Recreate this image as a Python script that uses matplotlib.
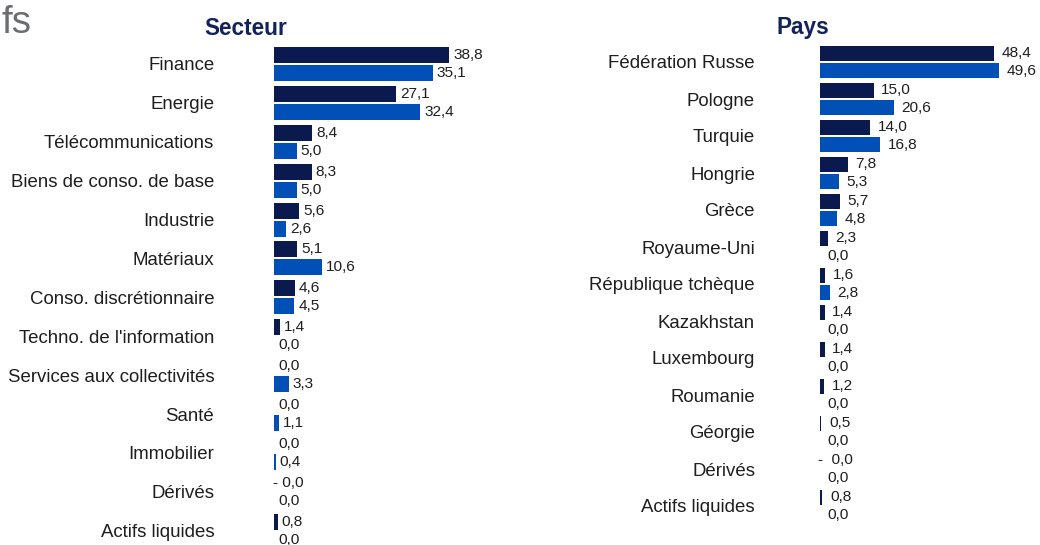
import matplotlib
matplotlib.use("Agg")
import matplotlib.pyplot as plt
import numpy as np

plt.rcParams['font.family'] = ['Liberation Sans', 'DejaVu Sans']

# ---------------- data ----------------
secteur_cats = ["Finance", "Energie", "Télécommunications", "Biens de conso. de base",
                "Industrie", "Matériaux", "Conso. discrétionnaire",
                "Techno. de l'information", "Services aux collectivités", "Santé",
                "Immobilier", "Dérivés", "Actifs liquides"]
secteur_fonds = [38.8, 27.1, 8.4, 8.3, 5.6, 5.1, 4.6, 1.4, 0.0, 0.0, 0.0, -0.0, 0.8]
secteur_indice = [35.1, 32.4, 5.0, 5.0, 2.6, 10.6, 4.5, 0.0, 3.3, 1.1, 0.4, 0.0, 0.0]
secteur_fonds_lbl = ["38,8", "27,1", "8,4", "8,3", "5,6", "5,1", "4,6", "1,4", "0,0",
                     "0,0", "0,0", "- 0,0", "0,8"]
secteur_indice_lbl = ["35,1", "32,4", "5,0", "5,0", "2,6", "10,6", "4,5", "0,0", "3,3",
                      "1,1", "0,4", "0,0", "0,0"]

pays_cats = ["Fédération Russe", "Pologne", "Turquie", "Hongrie", "Grèce", "Royaume-Uni",
             "République tchèque", "Kazakhstan", "Luxembourg", "Roumanie", "Géorgie",
             "Dérivés", "Actifs liquides"]
pays_fonds = [48.4, 15.0, 14.0, 7.8, 5.7, 2.3, 1.6, 1.4, 1.4, 1.2, 0.5, -0.0, 0.8]
pays_indice = [49.6, 20.6, 16.8, 5.3, 4.8, 0.0, 2.8, 0.0, 0.0, 0.0, 0.0, 0.0, 0.0]
pays_fonds_lbl = ["48,4", "15,0", "14,0", "7,8", "5,7", "2,3", "1,6", "1,4", "1,4",
                  "1,2", "0,5", "-  0,0", "0,8"]
pays_indice_lbl = ["49,6", "20,6", "16,8", "5,3", "4,8", "0,0", "2,8", "0,0", "0,0",
                   "0,0", "0,0", "0,0", "0,0"]

corner_text = "fs"

# ---------------- style ----------------
DARK = "#0b1a4e"
BLUE = "#0050b8"
TITLE = "#13235a"
TXT = "#1e1e1e"
W, H = 1040, 545

fig = plt.figure(figsize=(W / 100, H / 100), dpi=100)


def panel(left_px, width_px, top_px, row_px, scale, cats, v1, v2, l1, l2,
          off, hgt, lab_off, tick_pad, title, title_x, title_base):
    n = len(cats)
    height_px = n * row_px
    ax = fig.add_axes([left_px / W, (H - top_px - height_px) / H, width_px / W, height_px / H])
    ax.set_xlim(0, width_px / scale)
    ax.set_ylim(n - 0.5, -0.5)
    y = np.arange(n)
    ax.barh(y - off, v1, height=hgt, color=DARK, linewidth=0)
    ax.barh(y + off, v2, height=hgt, color=BLUE, linewidth=0)
    for i in range(n):
        for val, lbl, yy in ((v1[i], l1[i], y[i] - off), (v2[i], l2[i], y[i] + off)):
            dx = lab_off if not lbl.startswith("-") else -1
            ax.annotate(lbl, xy=(max(val, 0), yy), xytext=(dx, 0),
                        textcoords="offset points", ha="left", va="center",
                        fontsize=11.1, color=TXT, annotation_clip=False)
    ax.set_yticks(y)
    ax.set_yticklabels(cats, fontsize=13.4, color=TXT)
    ax.tick_params(axis="y", length=0, pad=tick_pad)
    ax.set_xticks([])
    for s in ax.spines.values():
        s.set_visible(False)
    ax.patch.set_alpha(0)
    fig.text(title_x / W, 1 - title_base / H, title, ha="center", va="baseline",
             fontsize=16.3, fontweight="bold", color=TITLE)
    return ax


panel(274, 266, 44.5, 38.9, 4.52, secteur_cats, secteur_fonds, secteur_indice,
      secteur_fonds_lbl, secteur_indice_lbl, off=0.231, hgt=0.41, lab_off=2.9,
      tick_pad=43, title="Secteur", title_x=246, title_base=35)

panel(819.5, 220, 43.5, 37.0, 3.61, pays_cats, pays_fonds, pays_indice,
      pays_fonds_lbl, pays_indice_lbl, off=0.23, hgt=0.39, lab_off=5.5,
      tick_pad=46.4, title="Pays", title_x=803, title_base=34)

fig.text(1 / W, 1 - 33 / H, corner_text, ha="left", va="baseline",
         fontsize=27.7, color="#6b6d70")

fig.savefig("out.png", dpi=100)
